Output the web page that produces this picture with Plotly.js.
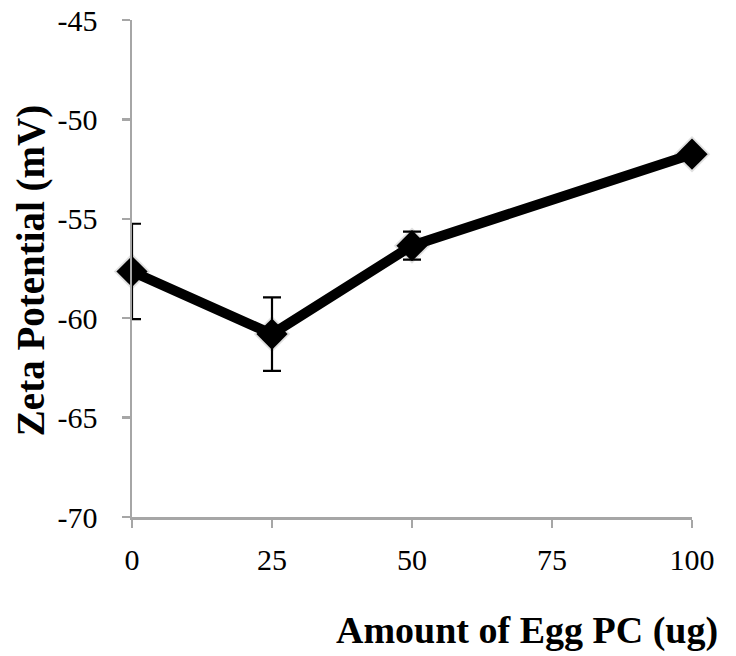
<!DOCTYPE html>
<html>
<head>
<meta charset="utf-8">
<script src="https://cdn.plot.ly/plotly-3.0.1.min.js"></script>
<style>html,body{margin:0;padding:0;background:#fff}#chart{width:736px;height:656px}</style>
</head>
<body>
<div id="chart"></div>
<script>
const eggPC = [0, 25, 50, 100];
const zeta = [-57.65, -60.8, -56.35, -51.75];
const zetaErr = [2.4, 1.85, 0.7, 0];
const xTicks = [0, 25, 50, 75, 100];
const yTicks = [-70, -65, -60, -55, -50, -45];

const font = "'Liberation Serif', 'Times New Roman', serif";
const axisColor = '#a6a6a6';

const traces = [
  {
    x: eggPC, y: zeta, type: 'scatter', mode: 'markers', cliponaxis: false,
    marker: {symbol: 'diamond', size: 28, color: 'rgba(0,0,0,0.12)'},
    hoverinfo: 'skip', showlegend: false
  },
  {
    x: eggPC, y: zeta, type: 'scatter', mode: 'lines+markers', cliponaxis: false,
    line: {color: '#000', width: 10},
    marker: {symbol: 'diamond', size: 24, color: '#000'},
    error_y: {type: 'data', array: zetaErr, visible: true, color: '#000', thickness: 2.2, width: 9},
    showlegend: false
  }
];

const layout = {
  width: 736, height: 656,
  margin: {l: 132, r: 44, t: 20, b: 139},
  paper_bgcolor: '#fff', plot_bgcolor: '#fff',
  font: {family: font, color: '#000', size: 30},
  xaxis: {
    range: [0, 100], tickvals: xTicks, ticktext: xTicks.map(String),
    showgrid: false, zeroline: false, showline: true, linecolor: axisColor, linewidth: 2.5,
    ticks: 'outside', ticklen: 8, tickwidth: 2.5, tickcolor: axisColor,
    tickfont: {family: font, size: 30, color: '#000'}, ticklabelstandoff: 6
  },
  yaxis: {
    range: [-70, -45], tickvals: yTicks, ticktext: yTicks.map(String),
    showgrid: false, zeroline: false, showline: true, linecolor: axisColor, linewidth: 2.5,
    ticks: 'outside', ticklen: 8, tickwidth: 2.5, tickcolor: axisColor,
    tickfont: {family: font, size: 30, color: '#000'}, ticklabelstandoff: 18
  },
  annotations: [
    {text: '<b>Zeta Potential (mV)</b>', xref: 'paper', yref: 'paper', x: -0.18, y: 0.495,
     xanchor: 'center', yanchor: 'middle', textangle: -90, showarrow: false,
     font: {family: font, size: 39, color: '#000'}},
    {text: '<b>Amount of Egg PC (ug)</b>', xref: 'paper', yref: 'paper', x: 1.05, y: -0.228,
     xanchor: 'right', yanchor: 'middle', showarrow: false,
     font: {family: font, size: 38, color: '#000'}}
  ]
};

Plotly.newPlot('chart', traces, layout, {displayModeBar: false, staticPlot: true});
</script>
</body>
</html>
